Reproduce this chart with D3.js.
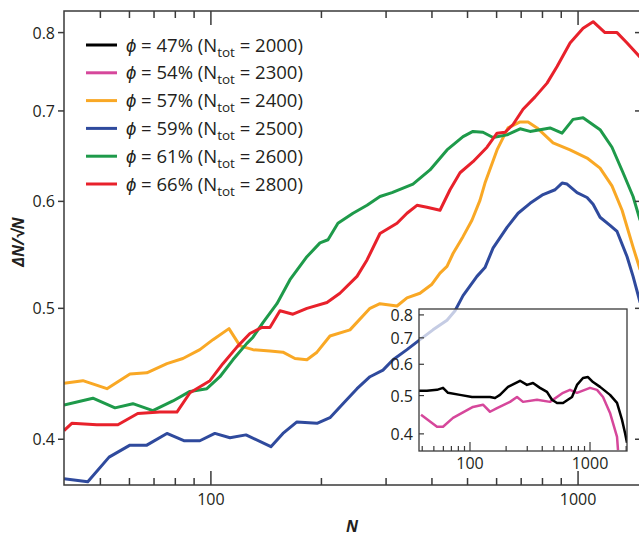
<!DOCTYPE html>
<html>
<head>
<meta charset="utf-8">
<script src="https://cdn.jsdelivr.net/npm/d3@7"></script>
<style>
  body { margin: 0; background: #fff; }
  text { font-family: "Open Sans", sans-serif; fill: #231f20; }
</style>
</head>
<body>
<div id="chart"></div>
<script>
// main panel series: N values and ΔN/√N values
var seriesNames = ["47%", "54%", "57%", "59%", "61%", "66%"];
var seriesTotals = [2000, 2300, 2400, 2500, 2600, 2800];
var seriesColors = ["#000000", "#d6479b", "#f9a825", "#2f4a9d", "#1e9a4a", "#e8212b"];

var orangeN = [39.8, 44.8, 52.1, 60.2, 66.9, 75.9, 83.9, 93.3, 101.3, 112, 120, 130.2, 144.8, 157.1, 169.4, 182.6, 194.5, 211, 239.2, 271.2, 288.7, 321.3, 342, 371, 400, 420.7, 439.6, 456.5, 486, 514, 540.5, 557.8, 601.6, 644.6, 695.2, 730.9, 773.4, 854.9, 951, 1058, 1148, 1237, 1318, 1412, 1476];
var orangeV = [0.440, 0.442, 0.436, 0.447, 0.448, 0.455, 0.459, 0.466, 0.474, 0.483, 0.469, 0.466, 0.465, 0.464, 0.459, 0.458, 0.464, 0.477, 0.482, 0.500, 0.504, 0.502, 0.509, 0.513, 0.521, 0.531, 0.537, 0.549, 0.565, 0.581, 0.601, 0.619, 0.655, 0.680, 0.687, 0.687, 0.680, 0.663, 0.655, 0.646, 0.635, 0.616, 0.591, 0.555, 0.534];

var greenN = [39.8, 47.7, 54.8, 61.3, 69.5, 78.8, 87.7, 97.5, 105.8, 114.8, 125.3, 130.2, 138.6, 151.3, 164.2, 182.6, 198.2, 208.4, 221.8, 243.8, 266.2, 288.7, 311.3, 355.1, 395.1, 439.6, 486.1, 517.3, 550.8, 586.7, 640.5, 695.2, 740.1, 838.9, 904.6, 969.1, 1032, 1148, 1237, 1326, 1412, 1476];
var greenV = [0.424, 0.429, 0.422, 0.425, 0.420, 0.427, 0.434, 0.436, 0.445, 0.458, 0.471, 0.476, 0.488, 0.504, 0.525, 0.546, 0.559, 0.562, 0.578, 0.588, 0.596, 0.605, 0.609, 0.618, 0.633, 0.655, 0.670, 0.676, 0.675, 0.669, 0.672, 0.679, 0.676, 0.680, 0.674, 0.690, 0.692, 0.678, 0.658, 0.630, 0.605, 0.581];

var redN = [39.8, 41.8, 48.9, 55.8, 63.2, 72.6, 80.8, 87.7, 99.4, 107.8, 117.7, 127.7, 137.7, 144.8, 154.2, 167.3, 182.6, 207.1, 224.6, 250, 266.2, 288.7, 321.3, 342, 364.1, 387.7, 420.7, 448, 477, 517.3, 565, 601.6, 632.6, 665.2, 708.3, 763.7, 823.3, 876.7, 951, 1032, 1099, 1184, 1277, 1360, 1476];
var redV = [0.406, 0.411, 0.410, 0.410, 0.418, 0.419, 0.419, 0.433, 0.442, 0.455, 0.468, 0.479, 0.484, 0.484, 0.498, 0.495, 0.500, 0.505, 0.513, 0.528, 0.543, 0.568, 0.578, 0.588, 0.596, 0.594, 0.591, 0.612, 0.630, 0.642, 0.658, 0.674, 0.675, 0.684, 0.702, 0.717, 0.734, 0.755, 0.786, 0.806, 0.815, 0.800, 0.800, 0.786, 0.767];

var blueN = [39.8, 46.2, 52.8, 60.2, 66.9, 75.9, 84.4, 93.3, 102.5, 112.7, 124.6, 145.7, 157.1, 171.5, 194.5, 211, 228.9, 250, 271.2, 294.2, 313.3, 342, 371, 402.6, 439.6, 462.3, 486.1, 530.4, 557.8, 586.7, 640.5, 686.5, 740.1, 802.9, 865.7, 904.6, 933.3, 993.8, 1058, 1099, 1148, 1222, 1277, 1360, 1412, 1476];
var blueV = [0.374, 0.372, 0.388, 0.396, 0.396, 0.404, 0.399, 0.399, 0.404, 0.401, 0.403, 0.395, 0.404, 0.412, 0.411, 0.415, 0.425, 0.436, 0.445, 0.450, 0.458, 0.466, 0.474, 0.482, 0.490, 0.498, 0.511, 0.528, 0.536, 0.554, 0.574, 0.588, 0.598, 0.607, 0.612, 0.619, 0.618, 0.609, 0.604, 0.597, 0.584, 0.576, 0.570, 0.546, 0.528, 0.505];

// inset series
var blackN = [37.6, 43.8, 53.1, 59.6, 65.6, 82.5, 103.9, 146.8, 161.6, 177.8, 207.4, 261, 298.5, 335, 383, 438, 482, 531, 596, 708, 779, 874, 962, 1059, 1212, 1468, 1679, 1848, 1957, 2033];
var blackV = [0.514, 0.514, 0.517, 0.523, 0.508, 0.502, 0.496, 0.496, 0.493, 0.502, 0.526, 0.545, 0.532, 0.538, 0.523, 0.511, 0.488, 0.479, 0.479, 0.496, 0.532, 0.554, 0.557, 0.541, 0.526, 0.502, 0.479, 0.434, 0.402, 0.380];

var pinkN = [39.1, 53.1, 59.6, 72.2, 105.9, 128.3, 146.8, 167.9, 215.4, 246.5, 276.6, 361.7, 464.2, 596, 681, 779, 1000, 1144, 1283, 1468, 1679, 1711];
var pinkV = [0.447, 0.417, 0.417, 0.439, 0.468, 0.474, 0.455, 0.465, 0.482, 0.496, 0.482, 0.488, 0.482, 0.508, 0.517, 0.508, 0.523, 0.517, 0.496, 0.452, 0.393, 0.364];

var yTicks = [0.4, 0.5, 0.6, 0.7, 0.8];
var xMajor = [100, 1000];
var xMinorMain = [50, 60, 70, 80, 90, 200, 300, 400, 500, 600, 700, 800, 900];
var xMinorInset = [40, 50, 60, 70, 80, 90, 200, 300, 400, 500, 600, 700, 800, 900, 2000];

var width = 639, height = 538;
var svg = d3.select("#chart").append("svg")
    .attr("width", width)
    .attr("height", height);

var axisColor = "#3a3a3a";

function zip(ns, vs) {
    return ns.map(function(n, i) { return { n: n, v: vs[i] }; });
}

// main scales
var x = d3.scaleLog().domain([39.8, 1484]).range([64, 641]);
var y = d3.scaleLog().domain([0.37, 0.83]).range([485, 11]);

svg.append("clipPath").attr("id", "mainClip")
    .append("rect").attr("x", 64).attr("y", 11).attr("width", 577).attr("height", 474);

var line = d3.line()
    .x(function(d) { return x(d.n); })
    .y(function(d) { return y(d.v); });

var mainSeries = [
    { data: zip(orangeN, orangeV), color: seriesColors[2] },
    { data: zip(blueN, blueV), color: seriesColors[3] },
    { data: zip(greenN, greenV), color: seriesColors[4] },
    { data: zip(redN, redV), color: seriesColors[5] }
];

svg.append("g").attr("clip-path", "url(#mainClip)")
    .selectAll("path")
    .data(mainSeries)
    .enter().append("path")
    .attr("d", function(d) { return line(d.data); })
    .attr("fill", "none")
    .attr("stroke", function(d) { return d.color; })
    .attr("stroke-width", 3)
    .attr("stroke-linejoin", "round");

// frame
svg.append("rect")
    .attr("x", 64).attr("y", 11).attr("width", 577).attr("height", 474)
    .attr("fill", "none").attr("stroke", axisColor).attr("stroke-width", 1.5);

// y ticks: outward on left, inward on right
var yt = svg.append("g");
yt.selectAll(".yl").data(yTicks).enter().append("line")
    .attr("x1", 58).attr("x2", 64)
    .attr("y1", function(d) { return y(d); }).attr("y2", function(d) { return y(d); })
    .attr("stroke", axisColor).attr("stroke-width", 1.5);
yt.selectAll(".yr").data(yTicks).enter().append("line")
    .attr("x1", 635).attr("x2", 641)
    .attr("y1", function(d) { return y(d); }).attr("y2", function(d) { return y(d); })
    .attr("stroke", axisColor).attr("stroke-width", 1.5);
yt.selectAll("text").data(yTicks).enter().append("text")
    .attr("x", 55).attr("y", function(d) { return y(d) + 6; })
    .attr("text-anchor", "end").style("font-size", "16px")
    .text(function(d) { return d.toFixed(1); });

// x ticks on top and bottom, pointing inward
var xt = svg.append("g");
[{ list: xMajor, len: 14 }, { list: xMinorMain, len: 7 }].forEach(function(t) {
    xt.selectAll(null).data(t.list).enter().append("line")
        .attr("x1", function(d) { return x(d); }).attr("x2", function(d) { return x(d); })
        .attr("y1", 485).attr("y2", 485 - t.len)
        .attr("stroke", axisColor).attr("stroke-width", 1.5);
    xt.selectAll(null).data(t.list).enter().append("line")
        .attr("x1", function(d) { return x(d); }).attr("x2", function(d) { return x(d); })
        .attr("y1", 11).attr("y2", 11 + t.len)
        .attr("stroke", axisColor).attr("stroke-width", 1.5);
});
xt.selectAll("text").data(xMajor).enter().append("text")
    .attr("x", function(d) { return x(d); }).attr("y", 505)
    .attr("text-anchor", "middle").style("font-size", "16px")
    .text(function(d) { return d; });

// axis titles
svg.append("text")
    .attr("transform", "translate(24,242) rotate(-90)")
    .attr("text-anchor", "middle")
    .style("font-size", "16px").style("font-weight", "bold").style("font-style", "italic")
    .text("ΔN/√N");
svg.append("text")
    .attr("x", 352).attr("y", 532)
    .attr("text-anchor", "middle")
    .style("font-size", "16px").style("font-weight", "bold").style("font-style", "italic")
    .text("N");

// legend
var legend = svg.append("g");
var rowY = d3.scaleLinear().domain([0, 5]).range([45, 184]);
seriesNames.forEach(function(name, i) {
    var yy = rowY(i);
    legend.append("line")
        .attr("x1", 86).attr("x2", 117).attr("y1", yy).attr("y2", yy)
        .attr("stroke", seriesColors[i]).attr("stroke-width", 3);
    var t = legend.append("text").attr("x", 126).attr("y", yy + 6.5).style("font-size", "18.5px");
    t.append("tspan").style("font-style", "italic").text("ϕ");
    t.append("tspan").text(" = " + name + " (N");
    t.append("tspan").attr("dy", 5).style("font-size", "13.5px").text("tot");
    t.append("tspan").attr("dy", -5).text(" = " + seriesTotals[i] + ")");
});

// inset
var ix = d3.scaleLog().domain([37.6, 2033]).range([419, 627]);
var iy = d3.scaleLog().domain([0.362, 0.828]).range([451, 309]);
var iline = d3.line()
    .x(function(d) { return ix(d.n); })
    .y(function(d) { return iy(d.v); });

var inset = svg.append("g");
inset.append("rect")
    .attr("x", 419).attr("y", 309).attr("width", 208).attr("height", 142)
    .attr("fill", "#ffffff").attr("fill-opacity", 0.72);

inset.append("clipPath").attr("id", "insetClip")
    .append("rect").attr("x", 419).attr("y", 309).attr("width", 208).attr("height", 142);

inset.append("g").attr("clip-path", "url(#insetClip)")
    .selectAll("path")
    .data([{ data: zip(pinkN, pinkV), color: seriesColors[1] }, { data: zip(blackN, blackV), color: seriesColors[0] }])
    .enter().append("path")
    .attr("d", function(d) { return iline(d.data); })
    .attr("fill", "none")
    .attr("stroke", function(d) { return d.color; })
    .attr("stroke-width", 2.5)
    .attr("stroke-linejoin", "round");

inset.append("rect")
    .attr("x", 419).attr("y", 309).attr("width", 208).attr("height", 142)
    .attr("fill", "none").attr("stroke", axisColor).attr("stroke-width", 1.3);

inset.selectAll(".iyt").data(yTicks).enter().append("line")
    .attr("x1", 419).attr("x2", 424)
    .attr("y1", function(d) { return iy(d); }).attr("y2", function(d) { return iy(d); })
    .attr("stroke", axisColor).attr("stroke-width", 1.2);
inset.selectAll(".iyl").data(yTicks).enter().append("text")
    .attr("x", 413).attr("y", function(d) { return iy(d) + 6; })
    .attr("text-anchor", "end").style("font-size", "16px")
    .text(function(d) { return d.toFixed(1); });

[{ list: xMajor, len: 9 }, { list: xMinorInset, len: 5 }].forEach(function(t) {
    inset.selectAll(null).data(t.list).enter().append("line")
        .attr("x1", function(d) { return ix(d); }).attr("x2", function(d) { return ix(d); })
        .attr("y1", 451).attr("y2", 451 - t.len)
        .attr("stroke", axisColor).attr("stroke-width", 1.2);
});
inset.selectAll(".ixl").data(xMajor).enter().append("text")
    .attr("x", function(d) { return ix(d); }).attr("y", 469)
    .attr("text-anchor", "middle").style("font-size", "16px")
    .text(function(d) { return d; });
</script>
</body>
</html>
